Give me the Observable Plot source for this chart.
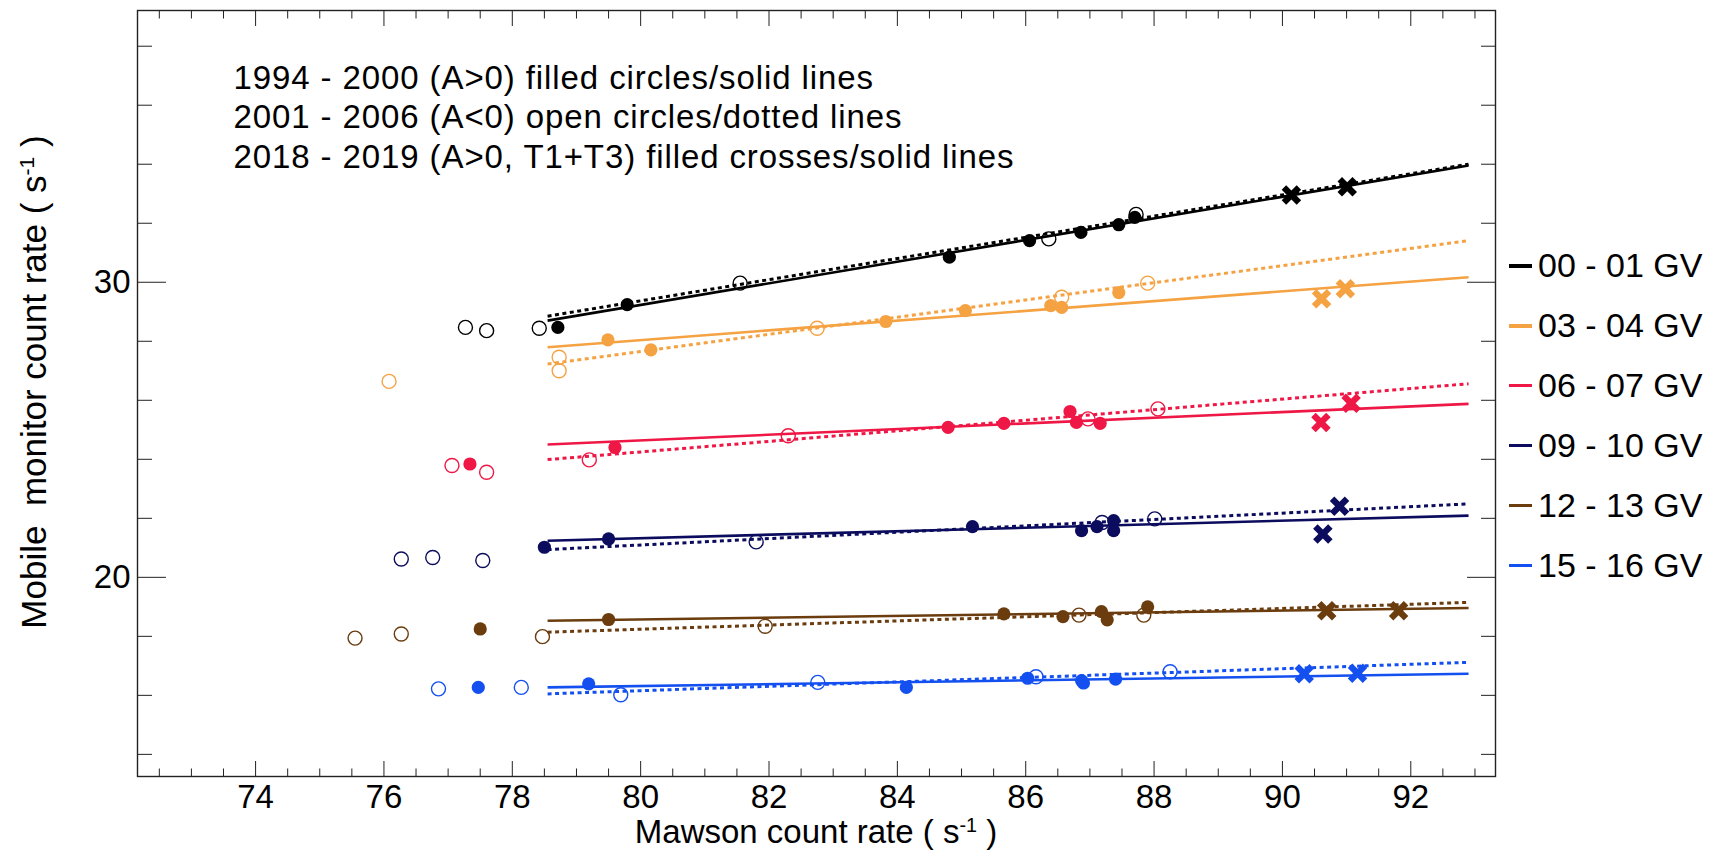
<!DOCTYPE html>
<html><head><meta charset="utf-8">
<script src="https://cdn.jsdelivr.net/npm/d3@7"></script>
<script src="https://cdn.jsdelivr.net/npm/@observablehq/plot@0.6"></script>
<style>
body{margin:0;background:#fff;}
#wrap{position:relative;width:1723px;height:854px;font-family:"Liberation Sans",Arial,sans-serif;}
#legend{position:absolute;left:1509px;top:236px;}
.row{height:59.9px;display:flex;align-items:center;font-size:34px;color:#000;white-space:nowrap;}
.sw{width:23px;height:3.5px;margin-right:6px;}
</style></head><body><div id="wrap"></div><script>
// ---- data ----
const groups = ["00 - 01 GV","03 - 04 GV","06 - 07 GV","09 - 10 GV","12 - 13 GV","15 - 16 GV"];
const colors = ["#000000","#f5a243","#ee1745","#0c0c5e","#6a3c0e","#1450f0"];
const annotationLines = [
  "1994 - 2000 (A>0) filled circles/solid lines",
  "2001 - 2006 (A<0) open circles/dotted lines",
  "2018 - 2019 (A>0, T1+T3) filled crosses/solid lines"
];
// 1994-2000 filled circles
const filledX = [
  [78.71,79.79,84.81,86.06,86.86,87.45,87.70],
  [79.49,80.16,83.82,85.06,86.39,86.56,87.45],
  [77.34,79.60,84.79,85.66,86.69,86.79,87.16],
  [78.50,79.50,85.17,86.87,87.11,87.37,87.37],
  [77.50,79.50,85.66,86.58,87.18,87.27,87.90],
  [77.47,79.19,84.14,86.03,86.87,86.90,87.40]
];
const filledY = [
  [28.47,29.24,30.85,31.41,31.69,31.95,32.20],
  [28.05,27.71,28.67,29.04,29.21,29.15,29.65],
  [23.84,24.40,25.08,25.22,25.62,25.25,25.22],
  [21.02,21.30,21.72,21.58,21.72,21.92,21.58],
  [18.25,18.57,18.76,18.67,18.84,18.56,19.00],
  [16.27,16.39,16.27,16.58,16.50,16.42,16.55]
];
// 2001-2006 open circles
const openX = [
  [77.27,77.60,78.42,81.55,86.36,87.72],
  [76.08,78.73,78.73,82.75,86.56,87.90],
  [77.06,77.60,79.20,82.30,86.97,88.06],
  [76.27,76.76,77.54,81.80,87.19,88.01],
  [75.55,76.27,78.47,81.94,86.83,87.84],
  [76.85,78.14,79.69,82.76,86.16,88.25]
];
const openY = [
  [28.47,28.36,28.44,29.97,31.47,32.30],
  [26.64,27.46,27.00,28.44,29.49,29.97],
  [23.79,23.56,23.98,24.80,25.37,25.71],
  [20.62,20.67,20.57,21.20,21.86,21.98],
  [17.94,18.08,17.99,18.34,18.72,18.72],
  [16.22,16.27,16.02,16.44,16.63,16.80]
];
// 2018-2019 filled crosses
const crossX = [
  [90.14,91.01],[90.61,90.98],[90.60,91.07],[90.89,90.63],[90.69,91.81],[90.34,91.17]
];
const crossY = [
  [32.96,33.24],[29.44,29.78],[25.25,25.90],[22.41,21.47],[18.87,18.87],[16.73,16.75]
];
// fitted lines: start / end
const fitStartX = 78.55, fitEndX = 92.9;
const solidStartY = [28.70,27.80,24.50,21.24,18.53,16.27];
const solidEndY   = [33.96,30.17,25.88,22.09,18.96,16.73];
const dottedStartY = [28.85,27.23,23.99,20.94,18.14,16.05];
const dottedEndY   = [34.00,31.41,26.56,22.49,19.15,17.12];
const xMajor = [74,76,78,80,82,84,86,88,90,92];
const yMajor = [20,30];

// ---- tables ----
const filled = [], open = [], crosses = [], solid = [], dotted = [];
groups.forEach((g,i)=>{
  filledX[i].forEach((x,j)=>filled.push({g,x,y:filledY[i][j]}));
  openX[i].forEach((x,j)=>open.push({g,x,y:openY[i][j]}));
  crossX[i].forEach((x,j)=>crosses.push({g,x,y:crossY[i][j]}));
  solid.push({g,x1:fitStartX,y1:solidStartY[i],x2:fitEndX,y2:solidEndY[i]});
  dotted.push({g,x1:fitStartX,y1:dottedStartY[i],x2:fitEndX,y2:dottedEndY[i]});
});
const xMinor = d3.range(72.5,93.31,0.5).filter(v=>!xMajor.includes(v));
const yMinor = d3.range(14,39,2).filter(v=>!yMajor.includes(v));

const thickX = {draw(ctx,size){
  const a = Math.sqrt(size/Math.PI), w = a*0.3;
  const pts = [[w,w],[w,a],[-w,a],[-w,w],[-a,w],[-a,-w],[-w,-w],[-w,-a],[w,-a],[w,-w],[a,-w],[a,w]];
  const c = Math.SQRT1_2;
  pts.forEach(([px,py],k)=>{const rx=(px-py)*c, ry=(px+py)*c; k?ctx.lineTo(rx,ry):ctx.moveTo(rx,ry);});
  ctx.closePath();
}};

const font = "Liberation Sans, Arial, Helvetica, sans-serif";
const blank = () => "";
const plot = Plot.plot({
  width:1723, height:854,
  marginLeft:137, marginRight:228, marginTop:10, marginBottom:78,
  x:{domain:[72.16,93.32], label:null},
  y:{domain:[13.25,39.21], label:null},
  color:{domain:groups, range:colors},
  style:{fontFamily:font, fontSize:"33px", color:"#000", background:"white"},
  marks:[
    Plot.axisX(xMajor,{anchor:"bottom", tickSize:-15, tickPadding:23, fontSize:33, label:null, stroke:"#222"}),
    Plot.axisX(xMinor,{anchor:"bottom", tickSize:-7.5, tickFormat:blank, label:null, stroke:"#222"}),
    Plot.axisX(xMajor,{anchor:"top", tickSize:-15, tickFormat:blank, label:null, stroke:"#222"}),
    Plot.axisX(xMinor,{anchor:"top", tickSize:-7.5, tickFormat:blank, label:null, stroke:"#222"}),
    Plot.axisY(yMajor,{anchor:"left", tickSize:-29, tickPadding:36, fontSize:33, label:null, stroke:"#222"}),
    Plot.axisY(yMinor,{anchor:"left", tickSize:-15, tickFormat:blank, label:null, stroke:"#222"}),
    Plot.axisY(yMajor,{anchor:"right", tickSize:-29, tickFormat:blank, label:null, stroke:"#222"}),
    Plot.axisY(yMinor,{anchor:"right", tickSize:-15, tickFormat:blank, label:null, stroke:"#222"}),
    Plot.frame({stroke:"#222", strokeWidth:1.4}),
    Plot.link(solid,{x1:"x1",y1:"y1",x2:"x2",y2:"y2",stroke:"g",strokeWidth:2.6}),
    Plot.link(dotted,{x1:"x1",y1:"y1",x2:"x2",y2:"y2",stroke:"g",strokeWidth:3,strokeDasharray:"4,3.5"}),
    Plot.dot(open,{x:"x",y:"y",stroke:"g",r:7,strokeWidth:1.4,fill:"none"}),
    Plot.dot(filled,{x:"x",y:"y",fill:"g",r:6.6,stroke:null}),
    Plot.dot(crosses,{x:"x",y:"y",fill:"g",symbol:thickX,r:10.6,stroke:null}),
    Plot.text([annotationLines.join("\n")],{frameAnchor:"top-left",dx:96,dy:50,text:d=>d,textAnchor:"start",lineAnchor:"top",lineHeight:1.2,fontSize:33,fill:"#000"})
  ]
});
document.getElementById("wrap").appendChild(plot);
const svg = d3.select(plot);
svg.selectAll("text").filter(function(){return this.textContent.startsWith("1994");}).style("letter-spacing","0.9px");
function titled(sel, main){
  sel.append("tspan").text(main);
  sel.append("tspan").attr("dy","-0.55em").attr("font-size","0.6em").text("-1");
  sel.append("tspan").attr("dy","0.33em").text(" )");
}
const xt = svg.append("text").attr("x",816).attr("y",843).attr("text-anchor","middle")
  .attr("font-family",font).attr("font-size",33).attr("fill","#000");
titled(xt,"Mawson count rate ( s");
const yt = svg.append("text").attr("transform","translate(46,382) rotate(-90)").attr("text-anchor","middle")
  .attr("font-family",font).attr("font-size",35).attr("fill","#000").attr("xml:space","preserve");
titled(yt,"Mobile  monitor count rate ( s");
// legend
const lg = d3.select("#wrap").append("div").attr("id","legend");
groups.forEach((g,i)=>{
  const r = lg.append("div").attr("class","row");
  r.append("div").attr("class","sw").style("background",colors[i]);
  r.append("span").text(g);
});
</script></body></html>
